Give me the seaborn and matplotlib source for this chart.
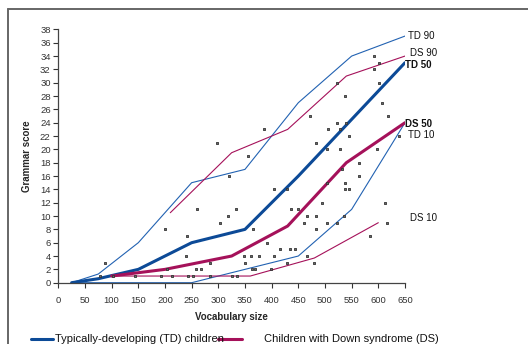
import matplotlib
matplotlib.use("Agg")
import matplotlib.pyplot as plt
import seaborn as sns
import pandas as pd
from matplotlib.lines import Line2D

# ---- data ----
td_x = [25, 75, 150, 250, 350, 450, 550, 650]
td10 = [0, 0, 0, 0, 2, 4, 11, 24]
td50 = [0, 0.6, 2, 6, 8, 16, 24.5, 33]
td90 = [0, 1.3, 6, 15, 17, 27, 34, 37]

ds10_x = [100, 210, 360, 480, 600]
ds10 = [1, 1, 1, 3.7, 9]
ds50_x = [100, 200, 325, 430, 540, 650]
ds50 = [1, 2, 4, 8.5, 18, 24]
ds90_x = [210, 325, 430, 540, 650]
ds90 = [10.5, 19.5, 23, 31, 34]

pts_x = [78, 88, 103, 143, 193, 200, 203, 213, 242, 239, 243, 253, 259, 267, 261, 284, 285,
         297, 303, 318, 320, 325, 333, 335,
         348, 350, 356, 361, 363, 365, 369, 376, 386, 391, 398, 405, 405, 415, 428, 429, 435,
         436, 443, 450, 461, 467, 467, 471, 480, 483, 483, 483, 494, 503, 503, 503, 505, 523,
         523, 523, 528, 528, 531, 535, 538, 538, 538, 540, 545, 545, 563, 564, 584, 591, 591,
         598, 601, 602, 606, 613, 616, 619, 638]
pts_y = [1, 3, 1, 1, 1, 8, 2, 1, 7, 4, 1, 1, 2, 2, 11, 1, 3,
         21, 9, 10, 16, 1, 11, 1,
         4, 3, 19, 4, 2, 8, 2, 4, 23, 6, 2, 4, 14, 5, 3, 14, 5,
         11, 5, 11, 9, 10, 4, 25, 3, 10, 8, 21, 12, 9, 15, 20, 23, 9,
         24, 30, 20, 23, 17, 10, 15, 14, 28, 24, 14, 22, 16, 18, 7, 34, 32,
         20, 30, 33, 27, 12, 9, 25, 22]

x_ticks = list(range(0, 651, 50))
y_ticks = list(range(0, 39, 2))

labels = ["TD 90", "DS 90", "TD 50", "DS 50", "TD 10", "DS 10"]
label_x = [656, 660, 650, 650, 656, 660]
label_y = [37, 34.4, 32.6, 23.8, 22.2, 9.7]
label_bold = [False, False, True, True, False, False]

# ---- style ----
sns.set_style("ticks")
plt.rcParams['font.family'] = ['Liberation Sans', 'DejaVu Sans']

TD_DARK = "#0c4a97"
TD_THIN = "#2262b2"
DS_COL = "#a5115a"

fig = plt.figure(figsize=(5.28, 3.44), dpi=100)
ax = fig.add_axes([0.1104, 0.1782, 0.767 - 0.1104, 0.9145 - 0.1782])

sns.lineplot(x=td_x, y=td90, ax=ax, color=TD_THIN, linewidth=0.8)
sns.lineplot(x=td_x, y=td10, ax=ax, color=TD_THIN, linewidth=0.8)
sns.lineplot(x=ds90_x, y=ds90, ax=ax, color=DS_COL, linewidth=0.8)
sns.lineplot(x=ds10_x, y=ds10, ax=ax, color=DS_COL, linewidth=0.8)
sns.lineplot(x=td_x, y=td50, ax=ax, color=TD_DARK, linewidth=2.2)
sns.lineplot(x=ds50_x, y=ds50, ax=ax, color=DS_COL, linewidth=2.2)

sns.scatterplot(x=pts_x, y=pts_y, ax=ax, marker="s", s=4.5, color="#6a6a6a",
                edgecolor="#333333", linewidth=0.6, zorder=5)

ax.set_xlim(0, 650)
ax.set_ylim(0, 38)
ax.set_xticks(x_ticks)
ax.set_yticks(y_ticks)
ax.set_xticklabels([str(v) for v in x_ticks])
ax.set_yticklabels([str(v) for v in y_ticks])
ax.tick_params(axis="both", labelsize=6.8, colors="#333333", length=3.5, width=0.8, pad=2)
ax.tick_params(axis="x", pad=6)
for s in ["left", "bottom"]:
    ax.spines[s].set_color("#444444")
    ax.spines[s].set_linewidth(0.9)
sns.despine(ax=ax)

ax.set_xlabel("Vocabulary size", fontsize=7, fontweight="bold", labelpad=5)
ax.set_ylabel("Grammar score", fontsize=7, fontweight="bold", labelpad=6)

for t, lx, ly, b in zip(labels, label_x, label_y, label_bold):
    ax.text(lx, ly, t, fontsize=7, fontweight="bold" if b else "normal",
            ha="left", va="center", clip_on=False, color="#111111")

# outer frame (cropped)
W, H = 528, 344
fig.add_artist(Line2D([8 / W, 8 / W], [0, 1 - 9 / H], transform=fig.transFigure,
                      color="#666666", linewidth=1.4))
fig.add_artist(Line2D([8 / W, 1], [1 - 9 / H, 1 - 9 / H], transform=fig.transFigure,
                      color="#666666", linewidth=1.4))

# legend (cropped at bottom)
ly = 1 - 339 / H
fig.add_artist(Line2D([31 / W, 53 / W], [ly, ly], transform=fig.transFigure,
                      color=TD_DARK, linewidth=2.2))
fig.text(55 / W, ly, "Typically-developing (TD) children", fontsize=8, va="center",
         ha="left", color="#111111")
fig.add_artist(Line2D([218 / W, 242 / W], [ly, ly], transform=fig.transFigure,
                      color=DS_COL, linewidth=2.2))
fig.text(264 / W, ly, "Children with Down syndrome (DS)", fontsize=8, va="center",
         ha="left", color="#111111")

fig.savefig("out.png", dpi=100)
